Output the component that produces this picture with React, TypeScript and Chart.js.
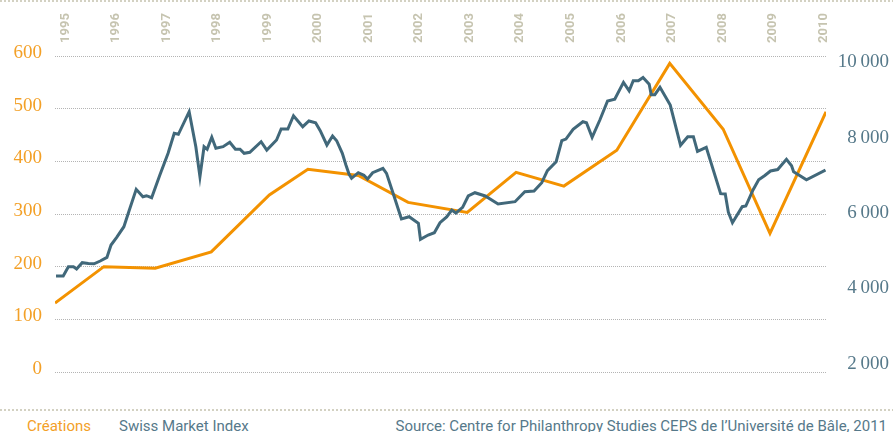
import React, { useEffect, useRef } from "react";
import { Chart, registerables } from "chart.js";

Chart.register(...registerables);

// ---- data ----
const yearTicks = [1995, 1996, 1997, 1998, 1999, 2000, 2001, 2002, 2003, 2004, 2005, 2006, 2007, 2008, 2009, 2010];

const creationsDates = [1995.0, 1995.95, 1996.95, 1998.04, 1999.17, 1999.92, 2000.9, 2001.87, 2003.02, 2003.97, 2004.9, 2005.93, 2006.96, 2008.0, 2008.91, 2010.0];
const creationsValues = [131, 200, 197, 228, 336, 385, 373, 322, 303, 379, 353, 421, 586, 461, 263, 494];

const smiDates = [
  1995.02, 1995.16, 1995.26, 1995.36, 1995.42, 1995.53, 1995.65, 1995.76, 1995.88, 1996.01,
  1996.09, 1996.2, 1996.34, 1996.44, 1996.58, 1996.71, 1996.78, 1996.88, 1997.04, 1997.2,
  1997.32, 1997.4, 1997.61, 1997.74, 1997.82, 1997.9, 1997.96, 1998.05, 1998.13, 1998.27,
  1998.4, 1998.51, 1998.6, 1998.68, 1998.79, 1999.01, 1999.12, 1999.31, 1999.4, 1999.53,
  1999.64, 1999.82, 1999.94, 2000.07, 2000.16, 2000.29, 2000.4, 2000.48, 2000.59, 2000.66,
  2000.72, 2000.77, 2000.9, 2001.01, 2001.08, 2001.18, 2001.38, 2001.45, 2001.6, 2001.74,
  2001.89, 2002.07, 2002.11, 2002.26, 2002.38, 2002.49, 2002.62, 2002.72, 2002.8, 2002.93,
  2003.04, 2003.17, 2003.37, 2003.62, 2003.95, 2004.14, 2004.32, 2004.47, 2004.58, 2004.75,
  2004.86, 2004.94, 2005.08, 2005.27, 2005.34, 2005.45, 2005.6, 2005.75, 2005.89, 2006.06,
  2006.17, 2006.25, 2006.35, 2006.44, 2006.56, 2006.6, 2006.67, 2006.77, 2006.97, 2007.17,
  2007.31, 2007.42, 2007.5, 2007.67, 2007.95, 2008.04, 2008.1, 2008.18, 2008.37, 2008.44,
  2008.58, 2008.69, 2008.81, 2008.92, 2009.06, 2009.23, 2009.33, 2009.37, 2009.62, 2009.99,
];
const smiValues = [
  4330, 4330, 4570, 4570, 4510, 4680, 4660, 4650, 4725, 4820,
  5150, 5355, 5636, 6053, 6629, 6433, 6459, 6406, 7009, 7586,
  8117, 8090, 8690, 7761, 6964, 7761, 7692, 8011, 7718, 7761,
  7878, 7692, 7692, 7586, 7612, 7894, 7673, 7939, 8231, 8231,
  8584, 8292, 8444, 8398, 8186, 7806, 8045, 7920, 7586, 7275,
  7036, 6922, 7070, 7001, 6903, 7070, 7187, 7054, 6433, 5841,
  5902, 5726, 5301, 5416, 5477, 5742, 5894, 6080, 6000, 6151,
  6452, 6539, 6452, 6239, 6300, 6566, 6584, 6805, 7123, 7363,
  7920, 7965, 8223, 8425, 8398, 8011, 8470, 8975, 9020, 9471,
  9248, 9514, 9514, 9599, 9418, 9142, 9142, 9339, 8868, 7798,
  8027, 8027, 7639, 7745, 6513, 6505, 6021, 5742, 6167, 6186,
  6611, 6884, 6996, 7116, 7155, 7426, 7254, 7097, 6884, 7142,
];

const leftTicks = [0, 100, 200, 300, 400, 500, 600];
const rightTicks = [2000, 4000, 6000, 8000, 10000];

const seriesNames = ["Créations", "Swiss Market Index"];
const sourceText = "Source: Centre for Philanthropy Studies CEPS de l’Université de Bâle, 2011";

const ORANGE = "#f39200";
const ORANGE_TEXT = "#f3a027";
const BLUE = "#41687a";
const BLUE_TEXT = "#56798a";
const BEIGE = "#c6c4b0";

const dots = (c: string) => `repeating-linear-gradient(to right, ${c} 0px, ${c} 2px, transparent 2px, transparent 4px)`;

export default function App() {
  const ref = useRef<HTMLCanvasElement | null>(null);

  useEffect(() => {
    if (!ref.current) return;
    const chart = new Chart(ref.current, {
      type: "line",
      data: {
        datasets: [
          {
            label: seriesNames[1],
            data: smiDates.map((d, i) => ({ x: d, y: smiValues[i] })),
            borderColor: BLUE,
            borderWidth: 3,
            pointRadius: 0,
            tension: 0,
            xAxisID: "x",
            yAxisID: "y2",
          },
          {
            label: seriesNames[0],
            data: creationsDates.map((d, i) => ({ x: d, y: creationsValues[i] })),
            borderColor: ORANGE,
            borderWidth: 3,
            pointRadius: 0,
            tension: 0,
            xAxisID: "x",
            yAxisID: "y",
          },
        ],
      },
      options: {
        responsive: false,
        animation: false,
        layout: { padding: { left: 0, right: 4, top: 0, bottom: 28 } },
        plugins: { legend: { display: false }, tooltip: { enabled: false } },
        scales: {
          x: { type: "linear", min: 1995, max: 2010, display: false },
          xTop: {
            type: "linear",
            position: "top",
            min: 1994.486,
            max: 2009.743,
            grid: { display: false, drawTicks: false },
            border: { display: false },
            afterBuildTicks: (s: any) => {
              s.ticks = yearTicks.map((v) => ({ value: v }));
            },
            afterFit: (s: any) => {
              s.height = 56;
            },
            ticks: {
              autoSkip: false,
              minRotation: 90,
              maxRotation: 90,
              padding: 13,
              color: BEIGE,
              font: { family: "Roboto", weight: "bold", size: 13 },
              callback: (v: any) => String(v),
            },
          },
          y: {
            position: "left",
            min: 0,
            max: 600,
            afterBuildTicks: (s: any) => {
              s.ticks = leftTicks.map((v) => ({ value: v }));
            },
            afterFit: (s: any) => {
              s.width = 55;
            },
            grid: { color: "#b4b4b4", lineWidth: 1, drawTicks: false },
            border: { display: false, dash: [1, 1] },
            ticks: {
              padding: 13,
              labelOffset: -3,
              color: ORANGE_TEXT,
              font: { family: "Liberation Serif", size: 19 },
              callback: (v: any) => String(v),
            },
          },
          y2: {
            position: "right",
            min: 1777,
            max: 10170,
            afterBuildTicks: (s: any) => {
              s.ticks = rightTicks.map((v) => ({ value: v }));
            },
            afterFit: (s: any) => {
              s.width = 63;
            },
            grid: { display: false, drawTicks: false },
            border: { display: false },
            ticks: {
              padding: 10,
              crossAlign: "far",
              color: BLUE_TEXT,
              font: { family: "Liberation Serif", size: 19 },
              callback: (v: any) => {
                const s = String(v);
                return s.length > 3 ? s.slice(0, s.length - 3) + "\u2009" + s.slice(-3) : s;
              },
            },
          },
        },
      },
    } as any);
    return () => chart.destroy();
  }, []);

  return (
    <div style={{ position: "fixed", left: 0, top: 0, width: 893, height: 432, overflow: "hidden", background: "#fff" }}>
      <div style={{ position: "absolute", left: 0, top: 0, width: 893, height: 2, background: dots("#d3d1c2") }} />
      <canvas ref={ref} width={893} height={400} style={{ position: "absolute", left: 0, top: 0, width: 893, height: 400 }} />
      <div style={{ position: "absolute", left: 0, top: 409, width: 893, height: 2, background: dots("#d3d1c2") }} />
      <div style={{ position: "absolute", left: 27, top: 419, font: "15px Roboto", lineHeight: "15px", color: ORANGE_TEXT, whiteSpace: "nowrap" }}>
        {seriesNames[0]}
      </div>
      <div style={{ position: "absolute", left: 119, top: 419, font: "15px Roboto", lineHeight: "15px", color: BLUE_TEXT, whiteSpace: "nowrap" }}>
        {seriesNames[1]}
      </div>
      <div style={{ position: "absolute", right: 6, top: 419, font: "15px Roboto", lineHeight: "15px", color: BLUE_TEXT, whiteSpace: "nowrap" }}>
        {sourceText}
      </div>
    </div>
  );
}
